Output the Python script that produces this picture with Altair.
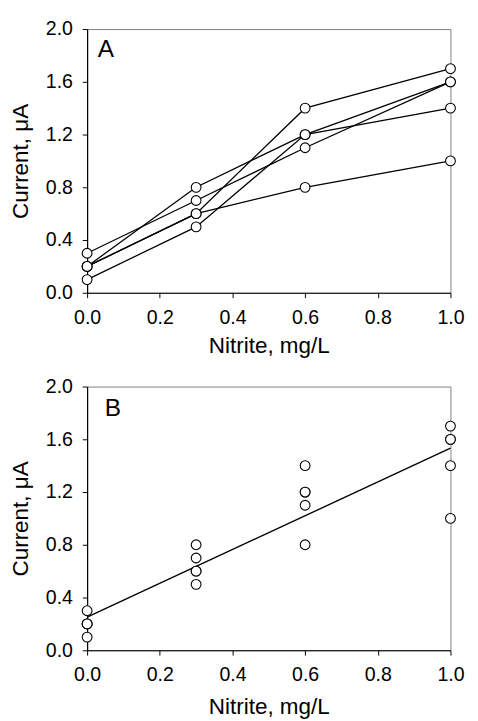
import altair as alt
import pandas as pd

# Nitrite concentrations (mg/L)
nitrite = [0.0, 0.3, 0.6, 1.0]
# Current readings (µA) for the five runs
run1 = [0.2, 0.8, 1.2, 1.6]
run2 = [0.3, 0.7, 1.1, 1.6]
run3 = [0.2, 0.6, 1.4, 1.7]
run4 = [0.1, 0.5, 1.2, 1.4]
run5 = [0.2, 0.6, 0.8, 1.0]
runs = {"1": run1, "2": run2, "3": run3, "4": run4, "5": run5}

x_ticks = [0.0, 0.2, 0.4, 0.6, 0.8, 1.0]
y_ticks = [0.0, 0.4, 0.8, 1.2, 1.6, 2.0]

rows = []
for name, vals in runs.items():
    for xv, yv in zip(nitrite, vals):
        rows.append({"run": name, "nitrite": xv, "current": yv})
df = pd.DataFrame(rows)

FONT = "Liberation Sans"
W, H = 372, 270

def xenc(tp):
    return alt.X("nitrite:Q",
                 scale=alt.Scale(domain=[0, 1], nice=False),
                 axis=alt.Axis(values=x_ticks, format=".1f", title="Nitrite, mg/L",
                               labelFlush=False, labelOverlap=False, titlePadding=tp))

def yenc():
    return alt.Y("current:Q",
                 scale=alt.Scale(domain=[0, 2], nice=False),
                 axis=alt.Axis(values=y_ticks, format=".1f", title="Current, μA",
                               labelFlush=False, labelOverlap=False))

base = alt.Chart(df)

def points(tp):
    return base.mark_point(shape="circle", size=100, filled=True, fill="white",
                           stroke="black", strokeWidth=1.1, opacity=1).encode(
        x=xenc(tp), y=yenc())

lines_a = base.mark_line(color="black", strokeWidth=1.3).encode(
    x=xenc(8), y=yenc(), detail="run:N", order="nitrite:Q")

label_a = alt.Chart(pd.DataFrame({"t": ["A"]})).mark_text(
    align="left", baseline="alphabetic", fontSize=25, font=FONT, color="black"
).encode(text="t:N", x=alt.value(11), y=alt.value(29))

panel_a = alt.layer(lines_a, points(8), label_a).properties(width=W, height=H)

reg = base.transform_regression("nitrite", "current").mark_line(
    color="black", strokeWidth=1.4).encode(x=xenc(12), y=yenc())

label_b = alt.Chart(pd.DataFrame({"t": ["B"]})).mark_text(
    align="left", baseline="alphabetic", fontSize=25, font=FONT, color="black"
).encode(text="t:N", x=alt.value(18), y=alt.value(30))

panel_b = alt.layer(reg, points(12), label_b).properties(width=W, height=H)

chart = alt.vconcat(panel_a, panel_b, spacing=18).properties(
    padding={"left": 1, "top": 2, "right": 5, "bottom": 0}
).configure_view(
    stroke="#808080", strokeWidth=1
).configure_axis(
    grid=False, domainColor="black", domainWidth=1.2, tickColor="black",
    tickSize=5, labelFont=FONT, labelFontSize=20, labelColor="black",
    labelPadding=10, titleFont=FONT, titleFontSize=23, titleFontWeight="normal",
    titleColor="black"
).configure_axisY(
    titlePadding=13
)

chart.save("out.html", embed_options={"renderer": "svg", "actions": False})
